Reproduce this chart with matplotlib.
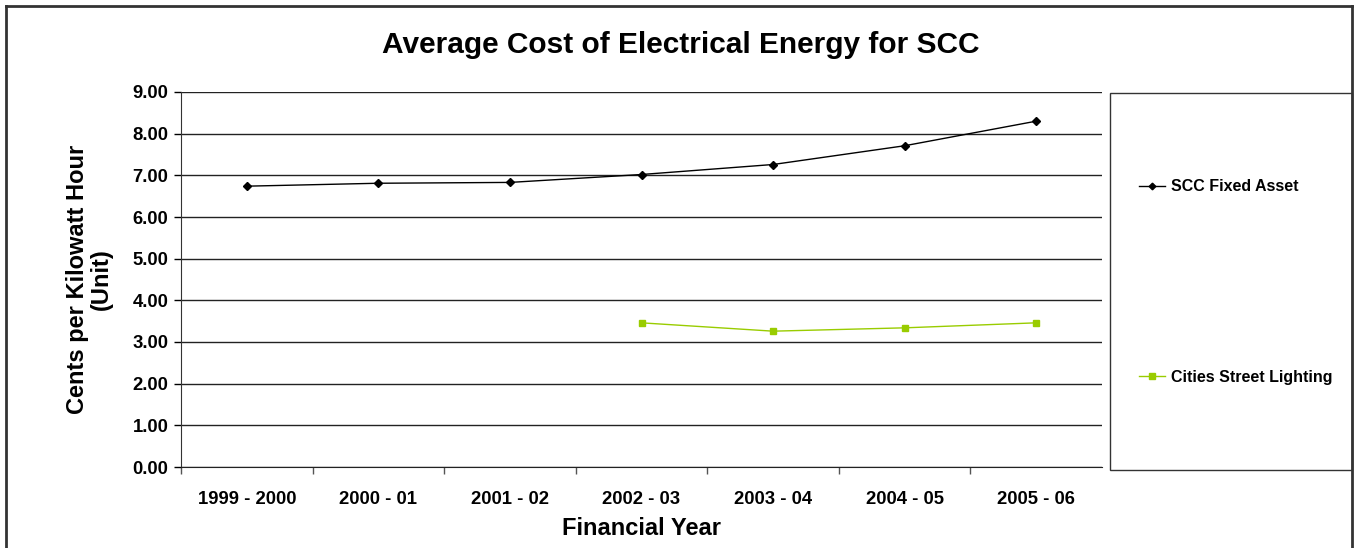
import matplotlib
matplotlib.use('Agg')
import matplotlib.pyplot as plt
from matplotlib.lines import Line2D

plt.rcParams['font.family'] = ['Liberation Sans', 'DejaVu Sans']
plt.rcParams['font.weight'] = 'bold'

years = ['1999 - 2000', '2000 - 01', '2001 - 02', '2002 - 03',
         '2003 - 04', '2004 - 05', '2005 - 06']
scc_fixed = [6.74, 6.81, 6.83, 7.02, 7.26, 7.71, 8.30]
street_years = ['2002 - 03', '2003 - 04', '2004 - 05', '2005 - 06']
street_lighting = [3.46, 3.26, 3.34, 3.46]
yticks = [0, 1, 2, 3, 4, 5, 6, 7, 8, 9]

W, H = 1361, 548
fig = plt.figure(figsize=(W / 100, H / 100), dpi=100)
ax = fig.add_axes([181 / W, 1 - 467 / H, (1102 - 181) / W, (467 - 92) / H])

xs = range(len(years))
xs_street = [years.index(y) for y in street_years]
ax.plot(xs, scc_fixed, color='black', lw=1, marker='D', ms=4.5,
        label='SCC Fixed Asset')
ax.plot(xs_street, street_lighting, color='#99cc00', lw=1, marker='s', ms=5,
        label='Cities Street Lighting')

ax.set_xlim(-0.5, len(years) - 0.5)
ax.set_ylim(0, 9)
ax.set_yticks(yticks)
ax.set_yticklabels(['%.2f' % v for v in yticks])
ax.set_xticks(xs)
ax.set_xticklabels(years)
ax.set_xticks([i + 0.5 for i in range(-1, len(years) - 1)], minor=True)
ax.tick_params(axis='x', which='major', length=0, pad=17, labelsize=13.3)
ax.tick_params(axis='x', which='minor', length=5, width=1, color='#555555')
ax.tick_params(axis='y', length=5, width=1, labelsize=13.3, pad=4)
for lab in ax.get_xticklabels() + ax.get_yticklabels():
    lab.set_fontweight('bold')

ax.grid(axis='y', color='#222222', lw=1)
ax.set_axisbelow(True)
for s in ['top', 'right']:
    ax.spines[s].set_visible(False)
ax.spines['left'].set_color('#333333')
ax.spines['bottom'].set_color('#222222')

ax.set_xlabel('Financial Year', fontsize=17, fontweight='bold', labelpad=7)
ax.set_ylabel('Cents per Kilowatt Hour\n(Unit)', fontsize=17,
              fontweight='bold', labelpad=14, linespacing=1.05)
fig.text(681 / W, 1 - 45 / H, 'Average Cost of Electrical Energy for SCC',
         ha='center', va='center', fontsize=21.5, fontweight='bold')

# legend box
fig.add_artist(plt.Rectangle((1110 / W, 1 - 470 / H), 242 / W, 377 / H,
                             transform=fig.transFigure, fill=False,
                             ec='#333333', lw=1))
fig.legend(loc='center left', bbox_to_anchor=(1125 / W, 1 - 282 / H),
           frameon=False, fontsize=11.5, labelspacing=11.0,
           handlelength=1.6, handletextpad=0.35, markerscale=0.75)

# outer frame
fig.add_artist(Line2D([6 / W, 1352 / W], [1 - 6 / H, 1 - 6 / H],
                      transform=fig.transFigure, color='#333333', lw=2))
fig.add_artist(Line2D([6 / W, 6 / W], [0, 1 - 6 / H],
                      transform=fig.transFigure, color='#333333', lw=2))
fig.add_artist(Line2D([1352 / W, 1352 / W], [0, 1 - 6 / H],
                      transform=fig.transFigure, color='#333333', lw=2))

fig.savefig('out.png', dpi=100)
